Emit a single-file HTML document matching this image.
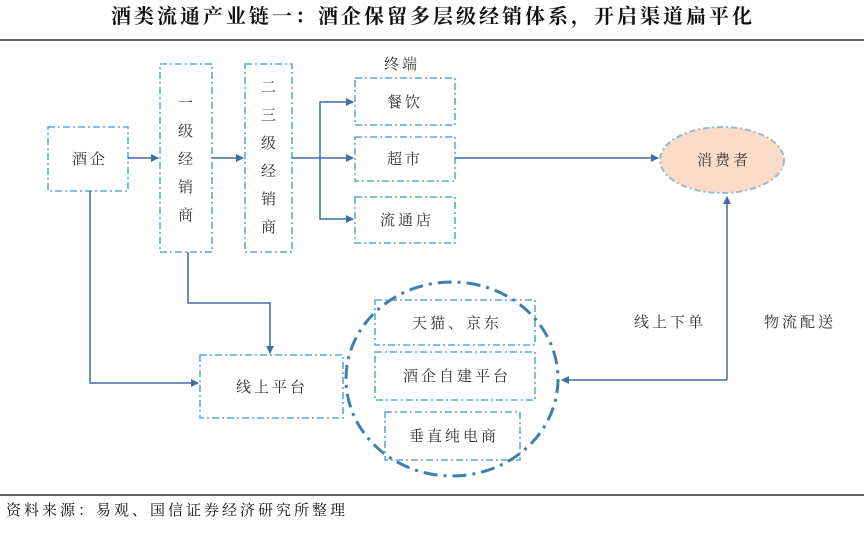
<!DOCTYPE html>
<html><head><meta charset="utf-8"><style>
body{margin:0;background:#fff;}
svg text{font-family:"Liberation Serif","Noto Serif CJK SC",serif;}
</style></head><body>
<svg width="864" height="529" viewBox="0 0 864 529" xmlns="http://www.w3.org/2000/svg">
<defs>
<marker id="a" markerWidth="8" markerHeight="8" refX="7" refY="4" orient="auto" markerUnits="userSpaceOnUse">
<path d="M0,0 L8,4 L0,8 z" fill="#3f6f9f"/></marker>
</defs>
<text x="433" y="23" font-size="20" font-weight="bold" letter-spacing="3" text-anchor="middle" fill="#111">酒类流通产业链一：酒企保留多层级经销体系，开启渠道扁平化</text>
<line x1="0" y1="40" x2="864" y2="40" stroke="#333" stroke-width="1.5"/>
<line x1="0" y1="495" x2="864" y2="495" stroke="#333" stroke-width="1.5"/>
<text x="6" y="515" font-size="15" letter-spacing="3" fill="#111">资料来源：易观、国信证券经济研究所整理</text>

<g fill="none" stroke="#5aaad8" stroke-width="1.6" stroke-dasharray="7,3,2,3">
<rect x="48" y="127" width="80" height="64"/>
<rect x="160" y="64" width="52" height="188"/>
<rect x="245" y="64" width="47" height="188"/>
<rect x="355" y="78" width="100" height="47"/>
<rect x="355" y="137" width="100" height="44"/>
<rect x="355" y="197" width="100" height="46"/>
<rect x="200" y="355" width="143" height="63"/>
<rect x="375" y="300" width="160" height="45"/>
<rect x="375" y="352" width="160" height="48"/>
<rect x="385" y="412" width="135" height="48"/>
</g>
<ellipse cx="452" cy="379" rx="106" ry="97" fill="none" stroke="#3f7fae" stroke-width="3" stroke-dasharray="14,6,3,6"/>
<ellipse cx="722" cy="160" rx="62" ry="33" fill="#fbdcc8" stroke="#9cb6c8" stroke-width="2" stroke-dasharray="6,3,2,3"/>

<g stroke="#3f6f9f" stroke-width="1.5" fill="none">
<line x1="128" y1="158" x2="158" y2="158" marker-end="url(#a)"/>
<line x1="212" y1="158" x2="243" y2="158" marker-end="url(#a)"/>
<line x1="292" y1="158" x2="353" y2="158" marker-end="url(#a)"/>
<polyline points="320,158 320,102 353,102" marker-end="url(#a)"/>
<polyline points="320,158 320,219 353,219" marker-end="url(#a)"/>
<line x1="455" y1="158" x2="658" y2="158" marker-end="url(#a)"/>
<polyline points="90,191 90,383 198,383" marker-end="url(#a)"/>
<polyline points="188,252 188,303 270,303 270,353" marker-end="url(#a)"/>
<polyline points="727,380 727,197" marker-end="url(#a)"/>
<polyline points="727,380 562,380" marker-end="url(#a)"/>
</g>

<g font-size="15" fill="#333" text-anchor="middle" letter-spacing="3">
<text x="90" y="164">酒企</text>
<text x="187" y="108">一</text><text x="187" y="136">级</text><text x="187" y="164">经</text><text x="187" y="192">销</text><text x="187" y="220">商</text>
<text x="270" y="92">二</text><text x="270" y="120">三</text><text x="270" y="148">级</text><text x="270" y="176">经</text><text x="270" y="204">销</text><text x="270" y="232">商</text>
<text x="402" y="69">终端</text>
<text x="405" y="107">餐饮</text>
<text x="405" y="164">超市</text>
<text x="407" y="225">流通店</text>
<text x="724" y="165">消费者</text>
<text x="272" y="392">线上平台</text>
<text x="457" y="328">天猫、京东</text>
<text x="457" y="381">酒企自建平台</text>
<text x="454" y="441">垂直纯电商</text>
<text x="670" y="327">线上下单</text>
<text x="800" y="327">物流配送</text>
</g>
</svg>
</body></html>
